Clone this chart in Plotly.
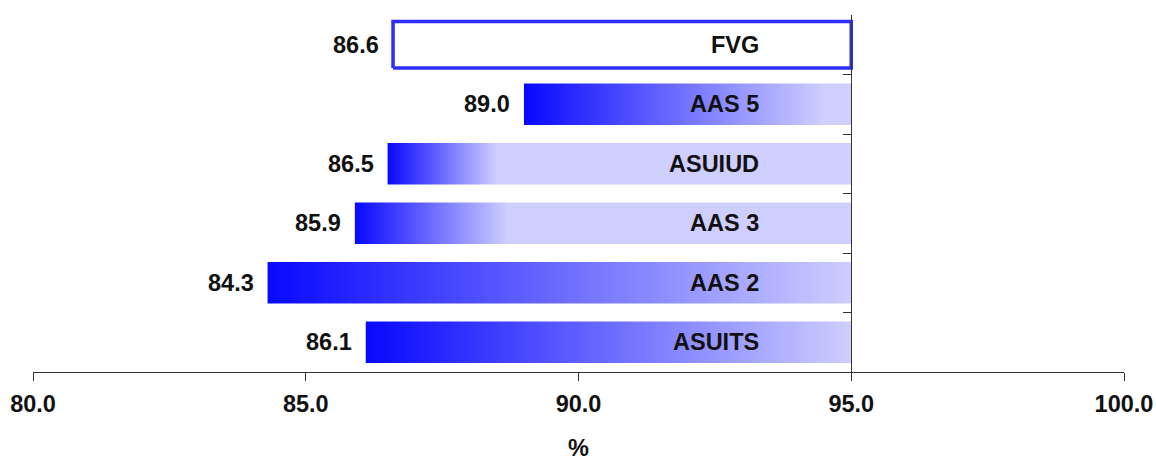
import plotly.graph_objects as go

# ---- data ----
categories = ["ASUITS", "AAS 2", "AAS 3", "ASUIUD", "AAS 5", "FVG"]
values = [86.1, 84.3, 85.9, 86.5, 89.0, 86.6]
bar_end = 95.0
x_ticks = [80, 85, 90, 95, 100]
# where each bar's colour gradient reaches the light tone (None = outlined bar)
gradient_stop = [95.0, 95.0, 88.7, 88.5, 94.5, None]

# ---- style ----
FONT = "Liberation Sans, Arial, sans-serif"
BLUE = "rgb(8,8,255)"
LAV = "rgb(206,206,255)"
HALF = 0.35

def bold(size=23.5):
    return dict(family=FONT, size=size, color="#111", weight="bold")

fig = go.Figure()
for i, (cat, v, gs) in enumerate(zip(categories, values, gradient_stop)):
    xs = [v, bar_end, bar_end, v, v]
    if gs is None:
        h = 0.39
        ys = [i - h, i - h, i + h, i + h, i - h]
        fig.add_trace(go.Scatter(
            x=xs, y=ys, mode="lines", fill="toself",
            fillcolor="white", line=dict(color="rgb(45,45,255)", width=3.5),
            hoverinfo="skip", showlegend=False))
    else:
        ys = [i - HALF, i - HALF, i + HALF, i + HALF, i - HALF]
        fig.add_trace(go.Scatter(
            x=xs, y=ys, mode="lines", fill="toself",
            line=dict(width=0),
            fillgradient=dict(type="horizontal", start=v, stop=gs,
                              colorscale=[[0, BLUE], [1, LAV]]),
            hoverinfo="skip", showlegend=False))
    # value label to the left of the bar
    fig.add_annotation(x=v, y=i, text=f"{v:.1f}", showarrow=False,
                       xanchor="right", xshift=-12, font=bold())
    # category label inside the bar near its right end
    fig.add_annotation(x=bar_end, y=i, text=cat, showarrow=False,
                       xanchor="right", xshift=-90, font=bold())

fig.update_layout(
    width=1156, height=461,
    margin=dict(l=33, r=32, t=15, b=89),
    paper_bgcolor="white", plot_bgcolor="white",
    font=bold(),
    showlegend=False,
    xaxis=dict(range=[80, 100], tickvals=x_ticks, tickformat=".1f",
               showline=True, linecolor="#333", linewidth=1,
               ticks="outside", ticklen=8, tickcolor="#333",
               ticklabelstandoff=3, ticklabeloverflow="allow",
               automargin=False,
               showgrid=False, zeroline=False,
               tickfont=bold(),
               title=dict(text="%", standoff=38, font=bold())),
    yaxis=dict(range=[-0.5, 5.5], tickvals=[0.5, 1.5, 2.5, 3.5, 4.5, 5.5],
               showticklabels=False, side="right", anchor="free",
               position=0.75, showline=True, linecolor="#333", linewidth=1,
               ticks="inside", ticklen=8, tickcolor="#333",
               automargin=False,
               showgrid=False, zeroline=False),
)
fig.write_html(
    "out.html",
    config={"displayModeBar": False},
    post_script="document.body.style.margin='0';"
                "document.body.style.overflow='hidden';",
)
